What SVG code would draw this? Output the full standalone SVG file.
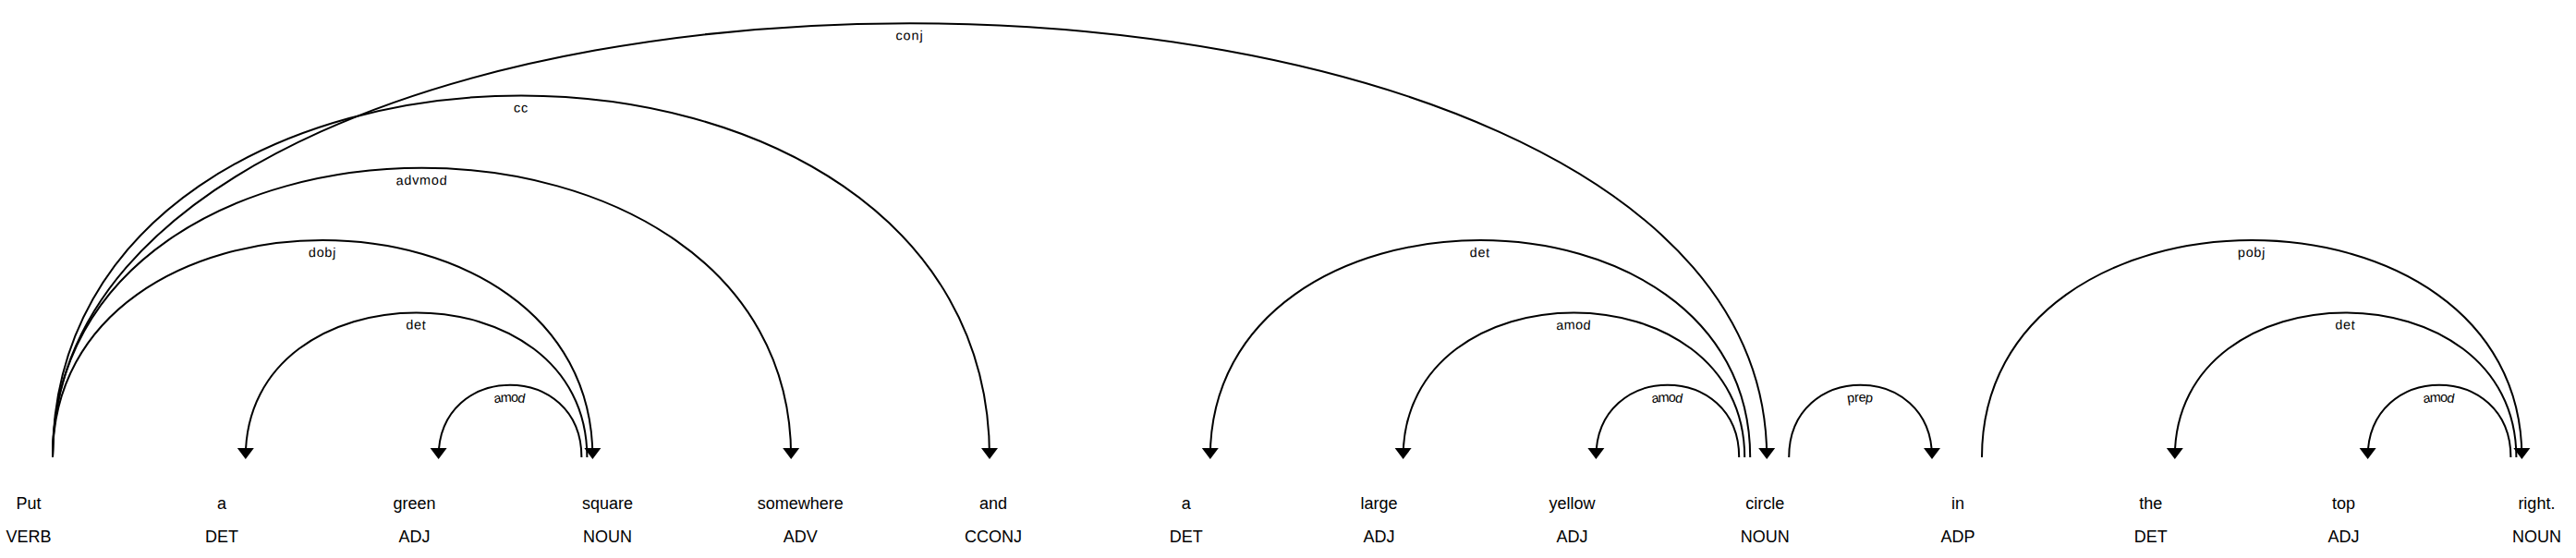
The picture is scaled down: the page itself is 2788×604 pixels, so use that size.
<svg xmlns="http://www.w3.org/2000/svg" width="2788" height="604" viewBox="0 0 2788 604">
<style>
text{font-family:"Liberation Sans",Arial,sans-serif;fill:#000}
.word{font-size:18px}
.arc{fill:none;stroke:#000;stroke-width:2}
.head{fill:#000}
.lbl{font-size:14.4px;letter-spacing:1px}
</style>
<rect width="2788" height="604" fill="#fff"/>
<g id="nodes" text-anchor="middle" class="word">
<g id="w0"><text x="31" y="551">Put</text><text x="31" y="587">VERB</text></g>
<g id="w1"><text x="240" y="551">a</text><text x="240" y="587">DET</text></g>
<g id="w2"><text x="448.6" y="551">green</text><text x="448.6" y="587">ADJ</text></g>
<g id="w3"><text x="657.4" y="551">square</text><text x="657.4" y="587">NOUN</text></g>
<g id="w4"><text x="866.2" y="551">somewhere</text><text x="866.2" y="587">ADV</text></g>
<g id="w5"><text x="1075" y="551">and</text><text x="1075" y="587">CCONJ</text></g>
<g id="w6"><text x="1283.8" y="551">a</text><text x="1283.8" y="587">DET</text></g>
<g id="w7"><text x="1492.6" y="551">large</text><text x="1492.6" y="587">ADJ</text></g>
<g id="w8"><text x="1701.4" y="551">yellow</text><text x="1701.4" y="587">ADJ</text></g>
<g id="w9"><text x="1910.2" y="551">circle</text><text x="1910.2" y="587">NOUN</text></g>
<g id="w10"><text x="2119" y="551">in</text><text x="2119" y="587">ADP</text></g>
<g id="w11"><text x="2327.8" y="551">the</text><text x="2327.8" y="587">DET</text></g>
<g id="w12"><text x="2536.6" y="551">top</text><text x="2536.6" y="587">ADJ</text></g>
<g id="w13"><text x="2745.4" y="551">right.</text><text x="2745.4" y="587">NOUN</text></g>
</g>
<g id="connectors">
<g id="a1"><path id="p1" class="arc" d="M57,495 C57,181.8 641.4,181.8 641.4,495"/><text class="lbl" dy="1.25em"><textPath href="#p1" startOffset="50%" text-anchor="middle">dobj</textPath></text><path class="head" d="M641.4,497 L632.4,485 650.4,485 Z"/></g>
<g id="a2"><path id="p2" class="arc" d="M265.8,495 C265.8,286.2 635.4,286.2 635.4,495"/><text class="lbl" dy="1.25em"><textPath href="#p2" startOffset="50%" text-anchor="middle">det</textPath></text><path class="head" d="M265.8,497 L256.8,485 274.8,485 Z"/></g>
<g id="a3"><path id="p3" class="arc" d="M474.6,495 C474.6,390.6 629.4,390.6 629.4,495"/><text class="lbl" dy="1.25em"><textPath href="#p3" startOffset="50%" text-anchor="middle">amod</textPath></text><path class="head" d="M474.6,497 L465.6,485 483.6,485 Z"/></g>
<g id="a4"><path id="p4" class="arc" d="M57,495 C57,77.4 856.2,77.4 856.2,495"/><text class="lbl" dy="1.25em"><textPath href="#p4" startOffset="50%" text-anchor="middle">advmod</textPath></text><path class="head" d="M856.2,497 L847.2,485 865.2,485 Z"/></g>
<g id="a5"><path id="p5" class="arc" d="M57,495 C57,-27 1071,-27 1071,495"/><text class="lbl" dy="1.25em"><textPath href="#p5" startOffset="50%" text-anchor="middle">cc</textPath></text><path class="head" d="M1071,497 L1062,485 1080,485 Z"/></g>
<g id="a6"><path id="p6" class="arc" d="M57,495 C57,-131.4 1912.2,-131.4 1912.2,495"/><text class="lbl" dy="1.25em"><textPath href="#p6" startOffset="50%" text-anchor="middle">conj</textPath></text><path class="head" d="M1912.2,497 L1903.2,485 1921.2,485 Z"/></g>
<g id="a7"><path id="p7" class="arc" d="M1309.8,495 C1309.8,181.8 1894.2,181.8 1894.2,495"/><text class="lbl" dy="1.25em"><textPath href="#p7" startOffset="50%" text-anchor="middle">det</textPath></text><path class="head" d="M1309.8,497 L1300.8,485 1318.8,485 Z"/></g>
<g id="a8"><path id="p8" class="arc" d="M1518.6,495 C1518.6,286.2 1888.2,286.2 1888.2,495"/><text class="lbl" dy="1.25em"><textPath href="#p8" startOffset="50%" text-anchor="middle">amod</textPath></text><path class="head" d="M1518.6,497 L1509.6,485 1527.6,485 Z"/></g>
<g id="a9"><path id="p9" class="arc" d="M1727.4,495 C1727.4,390.6 1882.2,390.6 1882.2,495"/><text class="lbl" dy="1.25em"><textPath href="#p9" startOffset="50%" text-anchor="middle">amod</textPath></text><path class="head" d="M1727.4,497 L1718.4,485 1736.4,485 Z"/></g>
<g id="a10"><path id="p10" class="arc" d="M1936.2,495 C1936.2,390.6 2091,390.6 2091,495"/><text class="lbl" dy="1.25em"><textPath href="#p10" startOffset="50%" text-anchor="middle">prep</textPath></text><path class="head" d="M2091,497 L2082,485 2100,485 Z"/></g>
<g id="a11"><path id="p11" class="arc" d="M2145,495 C2145,181.8 2729.4,181.8 2729.4,495"/><text class="lbl" dy="1.25em"><textPath href="#p11" startOffset="50%" text-anchor="middle">pobj</textPath></text><path class="head" d="M2729.4,497 L2720.4,485 2738.4,485 Z"/></g>
<g id="a12"><path id="p12" class="arc" d="M2353.8,495 C2353.8,286.2 2723.4,286.2 2723.4,495"/><text class="lbl" dy="1.25em"><textPath href="#p12" startOffset="50%" text-anchor="middle">det</textPath></text><path class="head" d="M2353.8,497 L2344.8,485 2362.8,485 Z"/></g>
<g id="a13"><path id="p13" class="arc" d="M2562.6,495 C2562.6,390.6 2717.4,390.6 2717.4,495"/><text class="lbl" dy="1.25em"><textPath href="#p13" startOffset="50%" text-anchor="middle">amod</textPath></text><path class="head" d="M2562.6,497 L2553.6,485 2571.6,485 Z"/></g>
</g>
</svg>
